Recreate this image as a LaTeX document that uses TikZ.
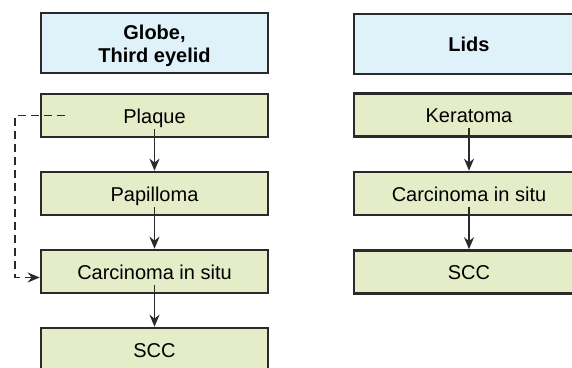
\documentclass[tikz,border=0pt]{standalone}
\usepackage{fontspec}
\setmainfont{Liberation Sans}
\usetikzlibrary{arrows.meta}
\definecolor{hdrfill}{HTML}{DFF2FA}
\definecolor{boxfill}{HTML}{E5ECC8}
\definecolor{edge}{HTML}{2A2A2A}
\tikzset{
  basebox/.style={draw=edge, line width=2.6pt, rectangle, inner sep=0pt},
  box/.style={basebox, fill=boxfill, minimum height=43pt,
    font=\fontsize{20}{23}\selectfont, text height=15pt, text depth=0pt},
  hdr/.style={basebox, fill=hdrfill, minimum height=60pt,
    font=\fontsize{20}{23}\selectfont\bfseries, align=center},
  hdrtext/.style={font=\fontsize{20}{23}\selectfont\bfseries, align=center, inner sep=0pt},
  flow/.style={draw=edge, line width=1.8pt, -{Stealth[length=12pt,width=10pt]}},
  dashflow/.style={draw=edge, line width=1.8pt, dash pattern=on 8pt off 5pt, -{Stealth[length=12pt,width=10pt]}}
}
\begin{document}
\begin{tikzpicture}[x=1pt,y=-1pt]
\useasboundingbox (0,0) rectangle (572,367);
% left column
\node[hdr, minimum width=227pt,
  label={[hdrtext, yshift=-3pt]center:Globe,\\Third eyelid}] (lh) at (154.5,43) {};
\node[box, minimum width=227pt] (plaque) at (154.5,115.5) {Plaque};
\node[box, minimum width=227pt] (papil) at (154.5,193.5) {Papilloma};
\node[box, minimum width=227pt] (lcis) at (154.5,271.5) {Carcinoma in situ};
\node[box, minimum width=227pt] (lscc) at (154.5,349.5) {SCC};
% right column
\node[hdr, minimum width=230pt, text height=15pt, text depth=0pt] (rh) at (469,44) {Lids};
\node[box, minimum width=230pt] (kera) at (469,115) {Keratoma};
\node[box, minimum width=230pt] (rcis) at (469,193.5) {Carcinoma in situ};
\node[box, minimum width=230pt] (rscc) at (469,272) {SCC};
% arrows
\draw[flow] ([yshift=-13pt]plaque.center) -- (papil.north);
\draw[flow] ([yshift=-13pt]papil.center) -- (lcis.north);
\draw[flow] ([yshift=-13pt]lcis.center) -- (lscc.north);
\draw[flow] ([yshift=-13pt]kera.center) -- (rcis.north);
\draw[flow] ([yshift=-13pt]rcis.center) -- (rscc.north);
% dashed feedback
\coordinate (ds) at ([xshift=-90pt]plaque.center);
\coordinate (dc) at (15,115.5);
\draw[dashflow] (ds) -- (dc) |- ([yshift=-6pt]lcis.west);
\end{tikzpicture}
\end{document}
